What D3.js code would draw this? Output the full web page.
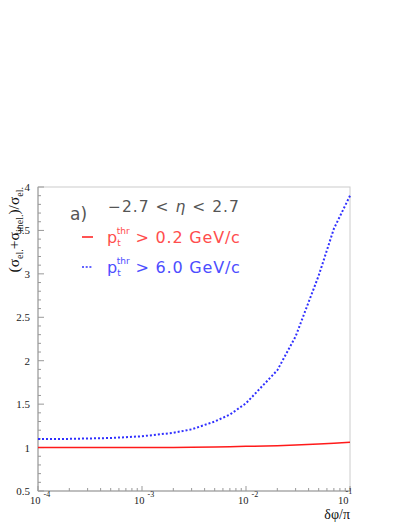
<!DOCTYPE html>
<html><head><meta charset="utf-8">
<script src="https://cdn.jsdelivr.net/npm/d3@7"></script>
<style>body{margin:0;background:#fff}svg{display:block}</style>
</head><body>
<script>
const xVals = [1e-4, 2e-4, 5e-4, 1e-3, 2e-3, 3e-3, 5e-3, 7e-3, 1e-2, 2e-2, 3e-2, 5e-2, 7e-2, 1e-1];
const blueVals = [1.10, 1.10, 1.11, 1.13, 1.17, 1.21, 1.30, 1.38, 1.51, 1.89, 2.28, 2.98, 3.52, 3.90];
const redVals  = [1.00, 1.00, 1.00, 1.00, 1.002, 1.004, 1.007, 1.01, 1.014, 1.022, 1.029, 1.04, 1.05, 1.06];
const yTicks = [0.5, 1, 1.5, 2, 2.5, 3, 3.5, 4];
const xTickExps = [-4, -3, -2, -1];
const legendLabels = ["0.2 GeV/c", "6.0 GeV/c"];

const W = 409, H = 529;
const L = 38, R = 350, T = 187, B = 491;
const svg = d3.select("body").append("svg").attr("width", W).attr("height", H);
const x = d3.scaleLog().domain([1e-4, 1e-1]).range([L, R]);
const y = d3.scaleLinear().domain([0.5, 4]).range([B, T]);
const axisCol = "#999";
const serif = "Liberation Serif, Times New Roman, serif";

// frame
svg.append("rect").attr("x", L).attr("y", T).attr("width", R - L).attr("height", B - T)
  .attr("fill", "none").attr("stroke", "#ccc").attr("stroke-width", 1);

// y axis
const yMinor = d3.range(5, 41).map(d => d / 10);
const gy = svg.append("g").attr("transform", `translate(${L},0)`);
gy.append("line").attr("y1", T).attr("y2", B).attr("stroke", axisCol);
gy.selectAll("line.mn").data(yMinor).join("line").attr("class", "mn")
  .attr("x1", 0).attr("x2", d => (Math.abs(d * 2 - Math.round(d * 2)) < 1e-6) ? 6 : 3)
  .attr("y1", d => y(d)).attr("y2", d => y(d)).attr("stroke", axisCol);
gy.selectAll("text").data(yTicks).join("text")
  .attr("x", -8).attr("y", d => y(d) + 4).attr("text-anchor", "end")
  .attr("font-family", serif).attr("font-size", 11)
  .attr("fill", "#222").text(d => d);

// x axis
const xMinor = [];
[-4, -3, -2].forEach(e => { for (let k = 1; k <= 9; k++) xMinor.push(k * Math.pow(10, e)); });
xMinor.push(1e-1);
const gx = svg.append("g").attr("transform", `translate(0,${B})`);
gx.append("line").attr("x1", L).attr("x2", R).attr("stroke", axisCol);
gx.selectAll("line.mn").data(xMinor).join("line").attr("class", "mn")
  .attr("x1", d => x(d)).attr("x2", d => x(d)).attr("y1", 0)
  .attr("y2", (d) => { const m = d / Math.pow(10, Math.floor(Math.log10(d) + 1e-9)); return Math.abs(m - 1) < 1e-6 ? -5 : -3; })
  .attr("stroke", axisCol);
const xl = gx.selectAll("text").data(xTickExps).join("text")
  .attr("font-family", serif).attr("fill", "#222");
xl.each(function (e) {
  const t = d3.select(this);
  const px = x(Math.pow(10, e));
  const last = e === -1;
  t.append("tspan").attr("x", px - (last ? 12 : 8)).attr("y", 13).attr("font-size", 10.5).text("10");
  t.append("tspan").attr("dx", last ? -3 : 3).attr("dy", last ? -10 : -7).attr("font-size", 8).text("-" + Math.abs(e));
});

// axis titles
svg.append("text").attr("x", R).attr("y", 519).attr("text-anchor", "end")
  .attr("font-family", serif).attr("font-size", 14).attr("fill", "#111")
  .text("δφ/π");
const yt = svg.append("text").attr("transform", `translate(19,187) rotate(-90)`).attr("text-anchor", "end")
  .attr("font-family", serif).attr("font-size", 15.5).attr("fill", "#111");
yt.append("tspan").text("(σ");
yt.append("tspan").attr("dy", 4).attr("font-size", 10).text("el.");
yt.append("tspan").attr("dy", -4).text("+σ");
yt.append("tspan").attr("dy", 4).attr("font-size", 10).text("inel.");
yt.append("tspan").attr("dy", -4).text(")/σ");
yt.append("tspan").attr("dy", 4).attr("font-size", 10).text("el.");

// curves
const line = d3.line().x(d => x(d[0])).y(d => y(d[1]));
svg.append("path").datum(xVals.map((v, i) => [v, redVals[i]])).attr("d", line)
  .attr("fill", "none").attr("stroke", "#ff1a1a").attr("stroke-width", 1.5);
svg.append("path").datum(xVals.map((v, i) => [v, blueVals[i]])).attr("d", line)
  .attr("fill", "none").attr("stroke", "#3030ff").attr("stroke-width", 2).attr("stroke-dasharray", "2,2");

// legend
const sans = "DejaVu Sans, Liberation Sans, sans-serif";
svg.append("text").attr("x", 70).attr("y", 220).attr("font-family", sans).attr("font-size", 17)
  .attr("fill", "#555").text("a)");
const eta = svg.append("text").attr("x", 108).attr("y", 212).attr("font-family", sans).attr("font-size", 15.5)
  .attr("letter-spacing", 1).attr("fill", "#555");
eta.append("tspan").text("−2.7 < ");
eta.append("tspan").attr("font-style", "italic").text("η");
eta.append("tspan").text(" < 2.7");

const legCols = ["#ff4d4d", "#4d4dff"];
const legY = [243, 273];
svg.append("line").attr("x1", 82).attr("x2", 93).attr("y1", 237).attr("y2", 237)
  .attr("stroke", "#ff1a1a").attr("stroke-width", 1.5);
svg.append("line").attr("x1", 82).attr("x2", 93).attr("y1", 267).attr("y2", 267)
  .attr("stroke", "#3030ff").attr("stroke-width", 1.5).attr("stroke-dasharray", "2,1.7");
legendLabels.forEach((lab, i) => {
  const t = svg.append("text").attr("x", 107).attr("y", legY[i]).attr("font-family", sans)
    .attr("font-size", 16).attr("fill", legCols[i]);
  t.append("tspan").text("p");
  t.append("tspan").attr("dy", 3).attr("font-size", 9).text("t");
  t.append("tspan").attr("dx", -4).attr("dy", -12).attr("font-size", 9).text("thr");
  t.append("tspan").attr("dy", 9).attr("letter-spacing", 0.8).text(" > " + lab);
});
</script>
</body></html>
